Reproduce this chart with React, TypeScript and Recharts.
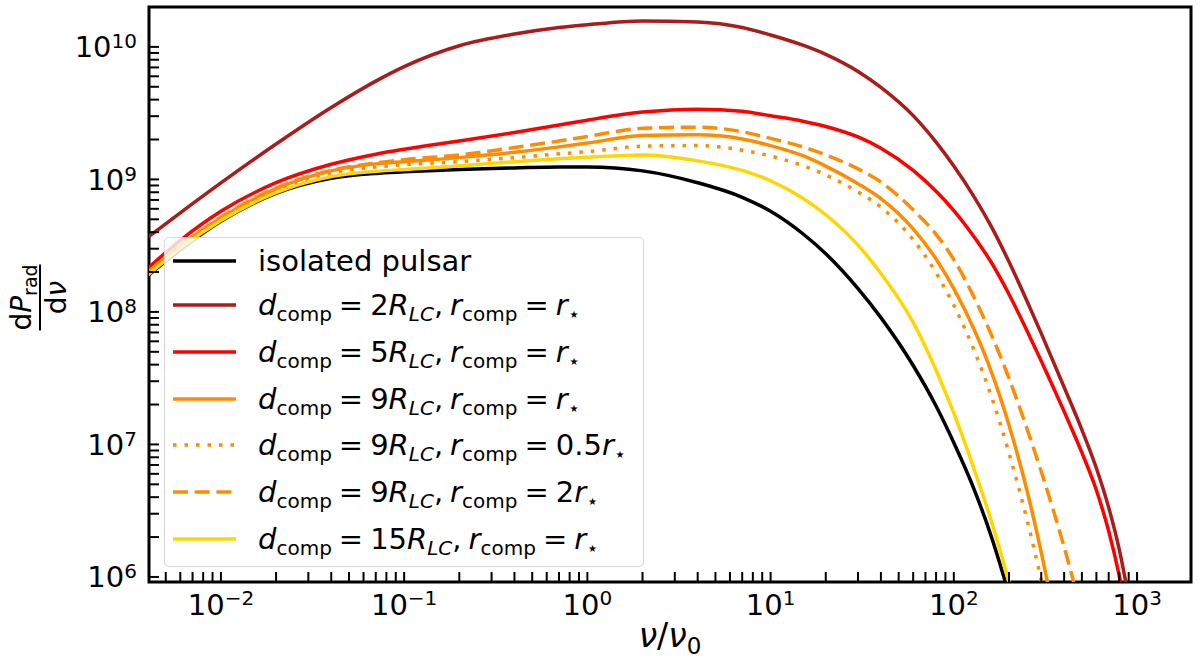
import { LineChart, Line, XAxis, YAxis, Legend, ReferenceArea } from 'recharts'

// frequency grid (nu / nu0) shared by all curves
const nu = [
  0.004, 0.006, 0.01, 0.02, 0.04, 0.07, 0.1, 0.2, 0.4, 0.7, 1, 2, 4, 7, 10, 15, 20, 30, 40, 60, 80,
  100, 130, 160, 200, 250, 300, 400, 500, 600, 700, 800, 900,
]

// dP_rad / dnu
const isolated = [
  1.88e8, 2.95e8, 4.84e8, 7.85e8, 1.02e9, 1.11e9, 1.14e9, 1.19e9, 1.22e9, 1.24e9, 1.24e9, 1.16e9,
  9.44e8, 7.33e8, 5.75e8, 3.89e8, 2.75e8, 1.5e8, 9.06e7, 3.94e7, 1.95e7, 1.03e7, 4.47e6, 2.03e6, 7.41e5,
]
const d2 = [
  3.67e8, 5.6e8, 9.42e8, 1.85e9, 3.49e9, 5.52e9, 7.1e9, 1.02e10, 1.25e10, 1.4e10, 1.47e10, 1.57e10,
  1.54e10, 1.4e10, 1.23e10, 1.03e10, 8.79e9, 6.53e9, 4.95e9, 3.03e9, 1.91e9, 1.26e9, 7.26e8, 4.42e8,
  2.39e8, 1.22e8, 6.89e7, 2.7e7, 1.29e7, 6.61e6, 3.35e6, 1.61e6, 7.06e5,
]
const d5 = [
  2.14e8, 3.47e8, 5.75e8, 9.44e8, 1.3e9, 1.55e9, 1.69e9, 1.95e9, 2.26e9, 2.57e9, 2.8e9, 3.22e9,
  3.39e9, 3.27e9, 3.02e9, 2.75e9, 2.51e9, 2.09e9, 1.72e9, 1.17e9, 8.13e8, 5.82e8, 3.63e8, 2.37e8,
  1.36e8, 7.28e7, 4.27e7, 1.77e7, 8.67e6, 4.51e6, 2.22e6, 1.02e6, 4.37e5,
]
const d9 = [
  2.0e8, 3.16e8, 5.13e8, 8.51e8, 1.16e9, 1.31e9, 1.36e9, 1.46e9, 1.6e9, 1.76e9, 1.88e9, 2.14e9,
  2.17e9, 2.02e9, 1.8e9, 1.51e9, 1.26e9, 9.27e8, 7.16e8, 4.23e8, 2.51e8, 1.5e8, 7.21e7, 3.56e7,
  1.4e7, 4.57e6, 1.53e6, 2.04e5,
]
const d9Half = [
  1.97e8, 3.09e8, 5.01e8, 8.32e8, 1.12e9, 1.24e9, 1.29e9, 1.36e9, 1.46e9, 1.56e9, 1.62e9, 1.78e9,
  1.8e9, 1.66e9, 1.5e9, 1.27e9, 1.08e9, 8.04e8, 6.17e8, 3.51e8, 1.97e8, 1.12e8, 5.01e7, 2.32e7,
  8.61e6, 2.75e6, 9.44e5, 1.32e5,
]
const d9Double = [
  2.0e8, 3.16e8, 5.19e8, 8.61e8, 1.17e9, 1.33e9, 1.41e9, 1.53e9, 1.74e9, 1.95e9, 2.11e9, 2.43e9,
  2.48e9, 2.29e9, 2.04e9, 1.76e9, 1.53e9, 1.2e9, 9.55e8, 5.89e8, 3.85e8, 2.48e8, 1.26e8, 6.76e7,
  3.16e7, 1.33e7, 6.24e6, 1.68e6, 5.31e5,
]
const d15 = [
  1.9e8, 3.02e8, 4.9e8, 7.94e8, 1.05e9, 1.15e9, 1.19e9, 1.26e9, 1.36e9, 1.43e9, 1.47e9, 1.53e9,
  1.38e9, 1.17e9, 9.77e8, 7.21e8, 5.41e8, 3.19e8, 1.95e8, 8.34e7, 3.63e7, 1.72e7, 6.31e6, 2.66e6,
  9.12e5, 2.63e5,
]

const xTicks = [
  0.005, 0.006, 0.007, 0.008, 0.009,
  0.01, 0.02, 0.03, 0.04, 0.05, 0.06, 0.07, 0.08, 0.09,
  0.1, 0.2, 0.3, 0.4, 0.5, 0.6, 0.7, 0.8, 0.9,
  1, 2, 3, 4, 5, 6, 7, 8, 9,
  10, 20, 30, 40, 50, 60, 70, 80, 90,
  100, 200, 300, 400, 500, 600, 700, 800, 900,
  1000,
]
const yTicks = [
  1e6, 2e6, 3e6, 4e6, 5e6, 6e6, 7e6, 8e6, 9e6,
  1e7, 2e7, 3e7, 4e7, 5e7, 6e7, 7e7, 8e7, 9e7,
  1e8, 2e8, 3e8, 4e8, 5e8, 6e8, 7e8, 8e8, 9e8,
  1e9, 2e9, 3e9, 4e9, 5e9, 6e9, 7e9, 8e9, 9e9,
  1e10,
]

const X_MIN = 0.00405
const X_MAX = 1970
const Y_MIN = 9.16e5
const Y_MAX = 2.0e10

const FONT = '"DejaVu Sans", sans-serif'

const rows = nu.map((v, i) => ({
  nu: v,
  isolated: isolated[i] ?? null,
  d2: d2[i] ?? null,
  d5: d5[i] ?? null,
  d9: d9[i] ?? null,
  d9Half: d9Half[i] ?? null,
  d9Double: d9Double[i] ?? null,
  d15: d15[i] ?? null,
}))

const Sub = ({ children, italic }: { children: any; italic?: boolean }) => (
  <span style={{ fontSize: 20, position: 'relative', top: 6, fontStyle: italic ? 'italic' : 'normal' }}>
    {children}
  </span>
)

const Eq = () => <span style={{ margin: '0 7px' }}>=</span>

const CompLabel = ({ d, r }: { d: string; r: string }) => (
  <span>
    <i>d</i>
    <Sub>comp</Sub>
    <Eq />
    {d}
    <i>R</i>
    <Sub italic>LC</Sub>
    <span style={{ marginRight: 7 }}>,</span>
    <i>r</i>
    <Sub>comp</Sub>
    <Eq />
    {r}
    <i>r</i>
    <Sub>⋆</Sub>
  </span>
)

const series = [
  { key: 'isolated', color: '#000000', dash: undefined, label: <span>isolated pulsar</span> },
  { key: 'd2', color: '#a81c1c', dash: undefined, label: <CompLabel d="2" r="" /> },
  { key: 'd5', color: '#ff0000', dash: undefined, label: <CompLabel d="5" r="" /> },
  { key: 'd9', color: '#ff8c00', dash: undefined, label: <CompLabel d="9" r="" /> },
  { key: 'd9Half', color: '#ff8c00', dash: '3.5 8', label: <CompLabel d="9" r="0.5" /> },
  { key: 'd9Double', color: '#ff8c00', dash: '15 6.7', label: <CompLabel d="9" r="2" /> },
  { key: 'd15', color: '#ffd700', dash: undefined, label: <CompLabel d="15" r="" /> },
]

const isMajor = (v: number) => Math.abs(Math.log10(v) - Math.round(Math.log10(v))) < 1e-6
const expText = (v: number) => {
  const e = Math.round(Math.log10(v))
  return e < 0 ? `\u2212${-e}` : `${e}`
}

// ticks point inward, labels are 10^n
const XTick = (props: any) => {
  const { x, y, payload } = props
  const v = payload.value
  return (
    <g>
      <line x1={x} x2={x} y1={y} y2={y - 10} stroke="#000" strokeWidth={2} />
      {isMajor(v) && (
        <text x={x} y={y + 33} textAnchor="middle" fontSize={29} fontFamily={FONT} fill="#000">
          10<tspan dy={-10} fontSize={20}>{expText(v)}</tspan>
        </text>
      )}
    </g>
  )
}

const YTick = (props: any) => {
  const { x, y, payload } = props
  const v = payload.value
  return (
    <g>
      <line x1={x} x2={x + 10} y1={y} y2={y} stroke="#000" strokeWidth={2} />
      {isMajor(v) && (
        <text x={x - 12} y={y + 10.5} textAnchor="end" fontSize={29} fontFamily={FONT} fill="#000">
          10<tspan dy={-9} fontSize={20}>{expText(v)}</tspan>
        </text>
      )}
    </g>
  )
}

const XLabel = (props: any) => {
  const vb = props.viewBox || { x: 149, y: 582, width: 1042, height: 82 }
  return (
    <text x={vb.x + vb.width / 2} y={vb.y + 65} textAnchor="middle" fontSize={33} fontFamily={FONT} fill="#000">
      <tspan fontStyle="italic">ν</tspan>/<tspan fontStyle="italic">ν</tspan>
      <tspan fontSize={23} dy={7}>0</tspan>
    </text>
  )
}

const YLabel = (props: any) => {
  const vb = props.viewBox || { x: 0, y: 7, width: 149, height: 575 }
  const cy = vb.y + vb.height / 2 + 3
  return (
    <g transform={`translate(${vb.x + 40}, ${cy}) rotate(-90)`} fontFamily={FONT} fill="#000">
      <text x={0} y={-9} textAnchor="middle" fontSize={28}>
        d<tspan fontStyle="italic">P</tspan>
        <tspan fontSize={19} dy={6}>rad</tspan>
      </text>
      <line x1={-33} x2={33} y1={0} y2={0} stroke="#000" strokeWidth={2} />
      <text x={0} y={26} textAnchor="middle" fontSize={28}>
        d<tspan fontStyle="italic">ν</tspan>
      </text>
    </g>
  )
}

const LegendBox = () => (
  <div
    style={{
      boxSizing: 'border-box',
      width: 480,
      height: 330,
      border: '1px solid rgba(204,204,204,0.8)',
      borderRadius: 5,
      background: 'rgba(255,255,255,0.8)',
      paddingTop: 2,
      fontFamily: FONT,
      fontSize: 29,
      color: '#000',
    }}
  >
    {series.map((s, i) => (
      <div key={s.key} style={{ display: 'flex', alignItems: 'center', height: i === 0 ? 42 : 46.67 }}>
        <svg width={63} height={10} style={{ marginLeft: 8, flex: 'none' }}>
          <line x1={0} x2={63} y1={5} y2={5} stroke={s.color} strokeWidth={3.5} strokeDasharray={s.dash} />
        </svg>
        <span style={{ marginLeft: 22, whiteSpace: 'nowrap', lineHeight: 'normal' }}>{s.label}</span>
      </div>
    ))}
  </div>
)

export default function App() {
  return (
    <div
      style={{
        position: 'absolute',
        left: 0,
        top: 0,
        width: 1200,
        height: 664,
        background: '#fff',
        fontFamily: FONT,
      }}
    >
      <LineChart width={1200} height={664} data={rows} margin={{ top: 7, right: 9, bottom: 0, left: 0 }}>
        <XAxis
          dataKey="nu"
          type="number"
          scale="log"
          domain={[X_MIN, X_MAX]}
          allowDataOverflow
          ticks={xTicks}
          interval={0}
          tick={<XTick />}
          tickLine={false}
          axisLine={false}
          tickSize={0}
          tickMargin={0}
          height={82}
          label={<XLabel />}
        />
        <YAxis
          type="number"
          scale="log"
          domain={[Y_MIN, Y_MAX]}
          allowDataOverflow
          ticks={yTicks}
          interval={0}
          tick={<YTick />}
          tickLine={false}
          axisLine={false}
          tickSize={0}
          tickMargin={0}
          width={149}
          label={<YLabel />}
        />
        {series.map((s) => (
          <Line
            key={s.key}
            type="monotone"
            dataKey={s.key}
            stroke={s.color}
            strokeWidth={3.5}
            strokeDasharray={s.dash}
            dot={false}
            activeDot={false}
            isAnimationActive={false}
          />
        ))}
        {/* plot frame */}
        <ReferenceArea
          x1={X_MIN}
          x2={X_MAX}
          y1={Y_MIN}
          y2={Y_MAX}
          fill="none"
          fillOpacity={0}
          stroke="#000"
          strokeWidth={3}
          ifOverflow="visible"
        />
        <Legend
          content={LegendBox}
          layout="horizontal"
          verticalAlign="middle"
          align="center"
          wrapperStyle={{ left: 164, top: 237, width: 480, height: 330 }}
        />
      </LineChart>
    </div>
  )
}
